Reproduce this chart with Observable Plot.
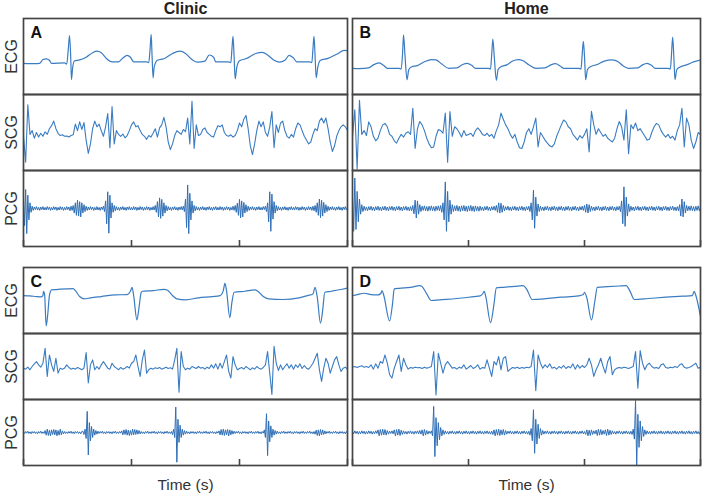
<!DOCTYPE html>
<html>
<head>
<meta charset="utf-8">
<script src="https://cdn.jsdelivr.net/npm/d3@7"></script>
<script src="https://cdn.jsdelivr.net/npm/@observablehq/plot@0.6"></script>
<style>
  body { margin: 0; background: #fff; }
  #fig { position: relative; width: 705px; height: 495px; overflow: hidden; background: #fff; }
  #fig svg { position: absolute; }
</style>
</head>
<body>
<div id="fig"></div>
<script>
// Signal rows, recording settings and panel letters
const signals = ["ECG", "SCG", "PCG"];
const settings = ["Clinic", "Home"];
const panelLetters = ["A", "B", "C", "D"];
const timeTicks = [0, 1, 2, 3];          // seconds
const scgStep = 0.02;                    // s between SCG samples
const pcgStep = 0.01;                    // s between PCG samples

// ECG traces as [time (s), amplitude (a.u.)]
const ecgA = [[0,-18],[0.10,-19],[0.15,-18],[0.18,-8],[0.21,-6],[0.24,-10],[0.26,-18],[0.38,-17],[0.40,-20],[0.415,20],[0.426,55],[0.437,0],[0.444,-61],[0.455,-30],[0.47,-12],[0.52,-9],[0.58,-2],[0.64,10],[0.68,14],[0.72,10],[0.77,-6],[0.82,-14],[0.88,-14],[0.92,-4],[0.96,3],[0.99,-2],[1.02,-14],[1.14,-14],[1.16,-16],[1.172,20],[1.182,58],[1.19,5],[1.20,-56],[1.21,-28],[1.24,-10],[1.30,-6],[1.38,8],[1.45,14],[1.50,8],[1.56,-8],[1.61,-15],[1.68,-12],[1.72,4],[1.76,-2],[1.78,-14],[1.90,-14],[1.92,-16],[1.93,20],[1.94,53],[1.95,0],[1.96,-59],[1.975,-28],[2.0,-11],[2.06,-6],[2.15,8],[2.21,11],[2.26,4],[2.32,-10],[2.37,-15],[2.42,-10],[2.46,3],[2.50,-4],[2.53,-14],[2.65,-14],[2.67,-16],[2.68,20],[2.69,53],[2.70,0],[2.71,-56],[2.725,-28],[2.75,-10],[2.82,-5],[2.90,6],[2.97,16],[3.0,15]];
const ecgB = [[0,-31],[0.06,-32],[0.14,-30],[0.18,-22],[0.23,-17],[0.27,-24],[0.30,-31],[0.40,-31],[0.42,-33],[0.432,10],[0.44,57],[0.452,5],[0.47,-61],[0.485,-35],[0.51,-27],[0.56,-24],[0.62,-14],[0.68,-8],[0.72,-9],[0.77,-20],[0.83,-31],[0.90,-30],[0.95,-21],[0.99,-18],[1.03,-24],[1.06,-31],[1.17,-31],[1.19,-33],[1.20,5],[1.21,46],[1.222,0],[1.24,-63],[1.255,-35],[1.28,-27],[1.33,-22],[1.38,-12],[1.43,-8],[1.47,-11],[1.52,-22],[1.58,-31],[1.66,-30],[1.71,-22],[1.75,-19],[1.79,-25],[1.82,-31],[1.95,-31],[1.97,-33],[1.98,5],[1.99,40],[2.0,0],[2.01,-61],[2.025,-35],[2.05,-27],[2.11,-21],[2.17,-12],[2.24,-9],[2.29,-14],[2.33,-24],[2.38,-31],[2.46,-30],[2.50,-22],[2.54,-18],[2.58,-24],[2.61,-31],[2.72,-31],[2.74,-33],[2.75,5],[2.76,51],[2.77,0],[2.78,-61],[2.795,-35],[2.82,-28],[2.88,-22],[2.94,-14],[3.0,-9]];
const ecgC = [[0,15],[0.06,14],[0.12,12],[0.16,11],[0.18,15],[0.185,28],[0.195,20],[0.21,-77],[0.225,-40],[0.24,15],[0.26,32],[0.30,33],[0.40,35],[0.46,36],[0.48,30],[0.52,12],[0.56,5],[0.62,8],[0.72,12],[0.85,17],[0.96,18],[0.99,28],[1.005,40],[1.02,15],[1.05,-59],[1.07,-20],[1.09,25],[1.10,28],[1.20,30],[1.30,34],[1.33,32],[1.38,15],[1.42,5],[1.50,2],[1.62,8],[1.75,12],[1.82,15],[1.85,30],[1.865,52],[1.88,30],[1.91,-52],[1.93,-5],[1.95,25],[2.05,28],[2.14,32],[2.17,28],[2.22,12],[2.27,5],[2.40,3],[2.55,8],[2.63,15],[2.68,20],[2.70,40],[2.72,10],[2.75,-69],[2.77,-30],[2.79,25],[2.85,28],[2.95,34],[3.0,38]];
const ecgD = [[0,15],[0.04,18],[0.10,22],[0.16,18],[0.22,17],[0.245,22],[0.255,30],[0.27,15],[0.32,-62],[0.345,-10],[0.36,35],[0.40,37],[0.50,40],[0.58,45],[0.60,42],[0.64,20],[0.68,0],[0.75,2],[0.90,6],[1.05,12],[1.10,14],[1.125,22],[1.135,28],[1.15,10],[1.19,-67],[1.22,-10],[1.24,38],[1.30,40],[1.40,43],[1.47,45],[1.50,35],[1.55,3],[1.65,5],[1.80,10],[1.95,14],[1.99,18],[2.00,25],[2.02,8],[2.06,-59],[2.09,0],[2.11,40],[2.20,42],[2.30,44],[2.36,45],[2.39,30],[2.43,3],[2.55,6],[2.70,10],[2.85,13],[2.93,15],[2.945,28],[2.96,15],[3.0,-49]];

// SCG traces, one sample every scgStep seconds
const scgA = [-10,-78,73,-5,5,-15,0,-12,-2,-10,
  2,-5,10,18,30,10,-2,-8,-6,-10,
  -9,-12,-8,-6,22,5,28,8,26,-20,
  -55,-30,10,30,15,22,5,-10,15,50,
  -40,68,-30,5,-5,-10,-4,-14,-8,5,
  20,28,15,18,5,-5,-10,-18,-8,-12,
  -2,10,-12,12,20,40,15,-25,-45,-30,
  -8,5,0,-5,8,2,38,-30,82,-42,
  20,-8,-5,8,12,0,-5,-10,-12,5,
  18,15,20,0,-8,-10,-6,-12,-8,5,
  25,15,35,45,10,-35,-58,-30,5,30,
  15,28,0,-10,15,55,-40,20,0,25,
  30,5,-10,-15,-5,-12,10,25,20,5,
  -10,-20,-30,-25,-5,10,5,30,38,25,
  38,10,-25,-50,-35,-10,5,15,20,15,
  5];
const scgB = [-10,60,-96,85,-5,5,-8,28,15,-10,
  -22,-15,5,20,24,15,-5,-10,-22,-28,
  -15,-5,-12,-2,2,-5,64,-42,10,29,
  20,5,-15,-30,-40,-38,-10,8,5,-2,
  51,-78,55,-10,15,10,0,-12,5,-8,
  -5,-2,-10,5,12,5,-5,-8,-2,-10,
  -5,-15,5,20,51,35,20,10,-5,-15,
  -5,-25,-40,-42,-25,0,10,-5,15,38,
  -38,0,-10,-20,-28,-35,-38,-30,-10,5,
  20,33,28,15,10,-5,-12,-20,-8,-15,
  -5,10,-51,56,20,-5,10,0,-10,-5,
  -15,-20,-25,-15,10,29,15,-20,60,-56,
  20,10,25,5,10,0,-10,-20,-18,0,
  15,24,20,5,-5,-12,-5,-15,-10,-20,
  5,20,64,-38,38,20,-20,-42,-25,0,
  -5];
const scgC = [-5,-8,-2,-10,0,8,15,5,-2,10,
  55,-30,35,5,-15,25,-20,-5,-8,-5,
  5,-3,-8,-5,-8,-3,-6,-10,-5,42,
  -50,5,20,-10,0,-8,5,15,5,-5,
  -8,10,0,-5,-10,-3,-8,-5,0,-5,
  10,15,35,0,-30,20,50,-20,-10,-5,
  -8,-4,-6,-3,-8,-5,-2,-6,-4,-8,
  20,55,-78,45,0,-10,-5,-8,0,-3,
  -6,0,-5,-3,-8,-2,-6,5,-5,8,
  -8,10,-5,15,35,-15,-35,30,5,-10,
  -6,-3,-8,0,-5,-10,-4,-8,0,-5,
  -8,-3,5,45,-20,-85,61,10,-12,5,
  -10,0,8,-5,5,-8,5,-3,8,-6,
  3,-5,-8,0,10,25,40,-10,-45,-5,
  25,10,-20,0,20,30,5,-15,-5,-2,
  -8];
const scgD = [-2,0,-3,0,2,-2,0,-3,5,-8,
  8,-5,15,10,35,10,-25,-35,-5,15,
  35,-15,25,5,-8,-3,-5,-2,-4,-3,
  -6,-2,-5,-3,0,45,-86,40,10,-20,
  5,15,5,-5,-3,-8,-2,-5,5,-8,
  -3,3,-6,-2,5,-8,-3,-5,20,-5,
  -30,15,5,30,-10,25,30,-15,-8,-3,
  -5,-2,-6,-3,-5,-2,-4,0,50,-73,
  35,10,-5,5,-3,8,-5,-2,-8,0,
  -5,3,-6,0,-4,8,-8,5,-5,3,
  -3,5,25,5,-30,-10,5,25,0,-20,
  15,30,-25,-10,-5,-3,-5,-2,-4,-6,
  -3,0,45,-66,48,10,-10,5,10,0,
  -5,-3,-6,5,8,-3,-5,-2,-4,0,
  -3,5,8,-2,-5,-3,0,5,10,-5,
  -3];

// PCG traces, one sample every pcgStep seconds
const pcgA = [20,-45,50,-66,35,-30,15,-10,6,-5,
  4,-3,5,-4,3,-5,4,-3,5,-4,
  3,-4,5,-3,4,-5,3,-4,5,-3,
  4,-5,3,-4,5,-3,4,-5,3,-4,
  5,-3,4,-6,6,-5,8,-12,15,-18,
  22,-20,18,-22,15,-12,10,-8,6,-5,
  4,-4,5,-3,4,-5,3,-4,5,-4,
  3,-5,4,-3,6,-8,20,-40,44,-65,
  35,-25,15,-10,8,-6,5,-4,3,-5,
  4,-3,5,-4,3,-5,4,-3,5,-4,
  3,-4,5,-3,4,-5,3,-4,5,-3,
  4,-5,3,-4,5,-3,4,-5,3,-4,
  5,-4,8,-10,18,-22,28,-26,24,-20,
  15,-12,8,-6,5,-4,3,-5,4,-3,
  5,-4,3,-5,4,-3,5,-4,6,-8,
  25,-50,62,-66,40,-30,20,-12,8,-6,
  5,-4,3,-5,4,-3,5,-4,3,-5,
  4,-3,5,-4,3,-5,4,-3,5,-4,
  3,-4,5,-3,4,-5,3,-4,5,-3,
  4,-5,3,-4,6,-5,8,-10,14,-18,
  24,-25,20,-22,16,-12,10,-8,6,-5,
  4,-3,5,-4,3,-5,4,-3,5,-4,
  3,-4,5,-3,6,-8,15,-35,44,-60,
  38,-28,18,-12,8,-6,5,-4,3,-5,
  4,-3,5,-4,3,-5,4,-3,5,-4,
  3,-4,5,-3,4,-5,3,-4,5,-3,
  4,-5,3,-4,5,-3,4,-5,6,-6,
  8,-10,15,-18,25,-24,22,-20,16,-12,
  10,-8,6,-5,4,-3,5,-4,3,-5,
  4,-3,5,-4,3,-5,4,-3,5,-4,
  3];
const pcgB = [30,-60,80,-55,45,-35,25,-15,10,-8,
  6,-5,4,-6,5,-4,6,-5,4,-6,
  5,-4,6,-5,4,-6,5,-4,6,-5,
  4,-6,5,-4,6,-5,4,-6,5,-4,
  6,-5,4,-6,5,-4,6,-5,4,-6,
  5,-6,8,-14,22,-25,20,-15,10,-8,
  6,-5,7,-6,5,-7,6,-5,7,-6,
  5,-7,6,-5,7,-6,8,-10,15,-30,
  70,-60,45,-35,22,-15,10,-8,7,-6,
  8,-7,6,-8,7,-6,8,-7,6,-8,
  7,-6,8,-7,6,-8,7,-6,5,-7,
  6,-5,4,-6,5,-4,6,-5,4,-6,
  5,-4,6,-5,8,-10,15,-12,14,-10,
  8,-6,5,-4,6,-5,4,-6,5,-4,
  6,-5,4,-6,5,-4,6,-5,4,-6,
  5,-4,6,-8,15,-30,48,-52,30,-20,
  12,-8,6,-5,4,-6,5,-4,6,-5,
  4,-6,5,-4,6,-5,4,-6,5,-4,
  6,-5,4,-6,5,-4,6,-5,4,-6,
  5,-4,6,-5,4,-6,5,-4,6,-5,
  8,-10,12,-12,10,-8,6,-5,4,-6,
  5,-4,6,-5,4,-6,5,-4,6,-5,
  4,-6,5,-4,6,-5,4,-6,5,-4,
  6,-8,20,-40,57,-47,30,-20,12,-8,
  6,-5,4,-6,5,-4,6,-5,4,-6,
  5,-4,6,-5,4,-6,5,-4,6,-5,
  4,-6,5,-4,6,-5,4,-6,5,-4,
  6,-5,4,-6,5,-4,6,-5,4,-6,
  5,-6,10,-20,25,-22,18,-12,8,-6,
  6,-5,7,-6,5,-7,6,-5,7,-6,
  5];
const pcgC = [2,-3,3,-2,4,-3,2,-4,3,-2,
  3,-3,2,-4,3,-2,4,-3,2,-3,
  6,-8,10,-9,7,-10,8,-6,9,-7,
  8,-10,6,-8,10,-7,5,-4,3,-3,
  2,-3,3,-2,4,-3,2,-4,3,-2,
  3,-3,2,-4,3,4,-6,10,-18,64,
  -68,30,-25,18,-15,10,-8,6,-5,4,
  -3,3,-2,4,-3,2,-4,3,-2,3,
  -3,2,-4,3,-2,4,-3,2,-3,3,
  -2,5,-7,8,-6,9,-8,7,-9,6,
  -8,10,-7,9,-6,8,-5,6,-4,3,
  -3,2,-4,3,-2,4,-3,2,-3,3,
  -2,4,-3,2,-4,3,-2,3,-3,2,
  -4,3,-2,4,-3,2,-3,3,-6,10,
  -15,77,-90,40,-30,22,-15,10,-8,6,
  -5,4,-3,2,-4,3,-2,3,-3,2,
  -4,3,-2,4,-3,2,-3,3,-2,4,
  -3,2,-4,3,-2,3,-3,2,-4,3,
  -2,5,-7,9,-8,10,-9,8,-7,9,
  -10,8,-7,6,-5,4,-3,3,-2,4,
  -3,2,-4,3,-2,3,-3,2,-4,3,
  -2,4,-3,2,-3,3,-2,4,-3,2,
  -4,3,-2,8,-15,57,-70,35,-28,20,
  -15,10,-8,6,-5,4,-3,2,-4,3,
  -2,4,-3,2,-3,3,-2,4,-3,2,
  -4,3,-2,3,-3,2,-4,3,-2,4,
  -3,2,-3,3,-2,4,-3,2,-4,3,
  -5,7,-9,8,-10,9,-7,8,-6,5,
  -4,3,-2,4,-3,2,-3,3,-2,4,
  -3,2,-4,3,-2,3,-3,2,-4,3,
  -2];
const pcgD = [3,-4,5,-3,4,-5,3,-4,5,-3,
  4,-5,3,-4,5,-3,4,-5,3,-4,
  5,-3,8,-10,9,-8,10,-7,9,-8,
  6,-5,4,-3,5,-4,8,-10,9,-8,
  10,-9,7,-6,5,-4,3,-5,4,-3,
  5,-4,3,-5,4,-3,5,-4,6,-5,
  8,-10,9,-8,6,-5,4,-3,5,-10,
  79,-73,45,-40,30,-22,15,-10,8,-6,
  5,-4,3,-5,4,-3,5,-4,3,-5,
  4,-3,5,-4,3,-5,4,-3,5,-4,
  3,-5,4,-3,5,-4,3,-5,4,-3,
  5,-4,3,-5,4,-3,5,-4,3,-5,
  4,-6,8,-10,9,-8,10,-9,8,-7,
  9,-8,6,-5,4,-3,5,-4,3,-5,
  4,-3,5,-4,3,-5,4,-3,5,-4,
  3,-5,4,-8,12,-25,69,-63,40,-35,
  25,-18,12,-8,6,-5,4,-3,5,-4,
  3,-5,4,-3,5,-4,3,-5,4,-3,
  5,-4,3,-5,4,-3,5,-4,3,-5,
  4,-3,5,-4,3,-5,4,-3,5,-4,
  3,-6,8,-10,7,-9,8,-6,5,-4,
  7,-9,10,-8,9,-7,6,-5,8,-9,
  10,-8,7,-6,5,-4,3,-5,4,-3,
  5,-4,3,-5,4,-3,5,-4,3,-5,
  4,-6,10,-20,97,-100,55,-45,35,-25,
  18,-12,8,-6,5,-4,3,-5,4,-3,
  5,-4,3,-5,4,-3,5,-4,3,-5,
  4,-3,5,-4,3,-5,4,-3,5,-4,
  3,-5,4,-3,5,-4,3,-5,4,-3,
  5,-4,3,-5,4,-3,5,-4,3,-5,
  4];

const font = '"Liberation Sans", Arial, Helvetica, sans-serif';
const traceColor = "#3a7cc2";
const frameColor = "#454545";

function tidy(ecg, scg, pcg) {
  return {
    ecg: ecg.map(([t, v]) => ({signal: "ECG", t, v})),
    scg: scg.map((v, i) => ({signal: "SCG", t: i * scgStep, v})),
    pcg: pcg.map((v, i) => ({signal: "PCG", t: i * pcgStep, v}))
  };
}

function panel({letter, title, traces, left, top, width, height, margin, rowLabels, timeLabel}) {
  const d = tidy(...traces);
  const chart = Plot.plot({
    width, height,
    marginLeft: margin[3], marginRight: margin[1], marginTop: margin[0], marginBottom: margin[2],
    style: {fontFamily: font, background: "transparent", overflow: "visible"},
    x: {domain: [0, 3]},
    y: {domain: [-100, 100], axis: null},
    fy: {domain: signals, padding: 0, axis: null},
    marks: [
      Plot.line(d.ecg, {x: "t", y: "v", fy: "signal", curve: "monotone-x", stroke: traceColor, strokeWidth: 1.2, clip: true}),
      Plot.line(d.scg, {x: "t", y: "v", fy: "signal", stroke: traceColor, strokeWidth: 1.1, clip: true}),
      Plot.line(d.pcg, {x: "t", y: "v", fy: "signal", stroke: "#2f6fb6", strokeWidth: 1, clip: true}),
      Plot.frame({stroke: frameColor, strokeWidth: 1.7}),
      Plot.axisX({ticks: timeTicks, tickSize: 6, dy: -6, tickFormat: () => "", label: null, stroke: frameColor, strokeWidth: 1.6}),
      rowLabels ? Plot.text(signals, {fy: s => s, text: s => s, frameAnchor: "left", textAnchor: "middle", lineAnchor: "middle", rotate: -90, dx: -12, fontSize: 16, fill: "#333"}) : null,
      title ? Plot.text([{signal: "ECG", s: title}], {fy: "signal", text: "s", frameAnchor: "top", lineAnchor: "middle", dy: -10, fontSize: 16, fontWeight: "bold", fill: "#222"}) : null,
      Plot.text([{signal: "ECG", s: letter}], {fy: "signal", text: "s", frameAnchor: "top-left", textAnchor: "start", lineAnchor: "top", dx: 7, dy: 8, fontSize: 16, fontWeight: "bold", fill: "#111"}),
      timeLabel ? Plot.text([{signal: "PCG", s: timeLabel}], {fy: "signal", text: "s", frameAnchor: "bottom", lineAnchor: "middle", dy: 20, fontSize: 15.5, fill: "#333"}) : null
    ]
  });
  chart.style.left = left + "px";
  chart.style.top = top + "px";
  document.getElementById("fig").appendChild(chart);
}

panel({letter: panelLetters[0], title: settings[0], traces: [ecgA, scgA, pcgA], left: 0, top: 0, width: 350, height: 250, margin: [18, 3, 4, 23], rowLabels: true});
panel({letter: panelLetters[1], title: settings[1], traces: [ecgB, scgB, pcgB], left: 349, top: 0, width: 354, height: 250, margin: [18, 3, 4, 3], rowLabels: false});
panel({letter: panelLetters[2], title: null, traces: [ecgC, scgC, pcgC], left: 0, top: 250, width: 350, height: 245, margin: [16, 3, 30, 23], rowLabels: true, timeLabel: "Time (s)"});
panel({letter: panelLetters[3], title: null, traces: [ecgD, scgD, pcgD], left: 349, top: 250, width: 354, height: 245, margin: [16, 3, 30, 3], rowLabels: false, timeLabel: "Time (s)"});
</script>
</body>
</html>
